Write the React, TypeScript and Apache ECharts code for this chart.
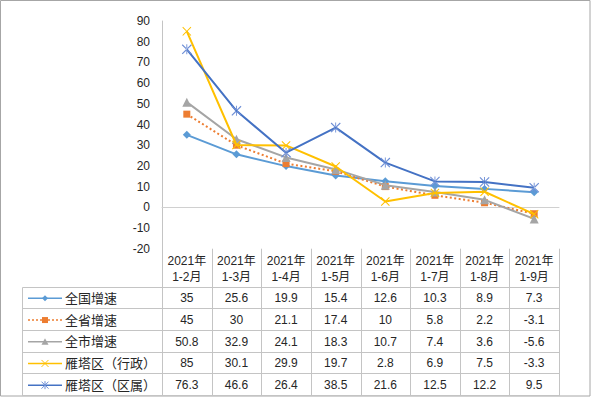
import React, { useEffect, useRef } from "react";
import * as echarts from "echarts";

const years = ["2021年", "2021年", "2021年", "2021年", "2021年", "2021年", "2021年", "2021年"];
const periods = ["1-2月", "1-3月", "1-4月", "1-5月", "1-6月", "1-7月", "1-8月", "1-9月"];

const seriesNames = ["全国增速", "全省增速", "全市增速", "雁塔区（行政）", "雁塔区（区属）"];
const national = [35, 25.6, 19.9, 15.4, 12.6, 10.3, 8.9, 7.3];
const province = [45, 30, 21.1, 17.4, 10, 5.8, 2.2, -3.1];
const city = [50.8, 32.9, 24.1, 18.3, 10.7, 7.4, 3.6, -5.6];
const yantaAdmin = [85, 30.1, 29.9, 19.7, 2.8, 6.9, 7.5, -3.3];
const yantaDistrict = [76.3, 46.6, 26.4, 38.5, 21.6, 12.5, 12.2, 9.5];

const yMin = -20;
const yMax = 90;
const yStep = 10;

const colors = ["#5B9BD5", "#ED7D31", "#A5A5A5", "#FFC000", "#4472C4"];
const FONT = "'Liberation Sans', 'Noto Sans CJK SC', sans-serif";
const TEXT = "#262626";

const X_PATH =
  "path://M0,0.8 L0.8,0 L5,4.2 L9.2,0 L10,0.8 L5.8,5 L10,9.2 L9.2,10 L5,5.8 L0.8,10 L0,9.2 L4.2,5 Z";
const STAR_PATH =
  "path://M0,0.8 L0.8,0 L5,4.2 L9.2,0 L10,0.8 L5.8,5 L10,9.2 L9.2,10 L5,5.8 L0.8,10 L0,9.2 L4.2,5 Z M4.55,0 L4.55,10 L5.45,10 L5.45,0 Z";

export default function App() {
  const ref = useRef<HTMLDivElement>(null);

  useEffect(() => {
    if (!ref.current) return;
    const chart = echarts.init(ref.current, undefined, { renderer: "svg" });

    const data = [national, province, city, yantaAdmin, yantaDistrict];
    const symbols = ["diamond", "rect", "triangle", X_PATH, STAR_PATH];
    const symbolSizes = [8, 7, 9, 9, 10];
    const markerColors = [colors[0], colors[1], colors[2], colors[3], "#6F8FD6"];

    // table geometry
    const left = 22.5;
    const x0 = 162;
    const x1 = 559;
    const colW = (x1 - x0) / periods.length;
    const headTop = 248.7;
    const headBottom = 287.5;
    const rowH = (396 - headBottom) / seriesNames.length;
    const grid = "#C4C4C4";

    const g: any[] = [];
    // outer border
    g.push({
      type: "rect",
      shape: { x: 0.5, y: 0.5, width: 589.5, height: 395.5 },
      style: { fill: "none", stroke: "#A6A6A6", lineWidth: 1 },
      silent: true,
    });
    // vertical column lines
    for (let i = 0; i <= periods.length; i++) {
      const x = Math.round(x0 + i * colW) + 0.5;
      g.push({
        type: "line",
        shape: { x1: x, y1: headTop, x2: x, y2: 396 },
        style: { stroke: grid, lineWidth: 1 },
        silent: true,
      });
    }
    // left border of label column
    g.push({
      type: "line",
      shape: { x1: left, y1: headBottom, x2: left, y2: 396 },
      style: { stroke: grid, lineWidth: 1 },
      silent: true,
    });
    // horizontal lines
    for (let r = 0; r <= seriesNames.length; r++) {
      const y = Math.round(headBottom + r * rowH) - 0.5;
      g.push({
        type: "line",
        shape: { x1: left, y1: y, x2: x1 + 0.5, y2: y },
        style: { stroke: grid, lineWidth: 1 },
        silent: true,
      });
    }
    // header texts
    periods.forEach((p, i) => {
      g.push({
        type: "text",
        x: x0 + (i + 0.5) * colW,
        y: (headTop + headBottom) / 2 + 1,
        style: {
          text: years[i] + "\n" + p,
          font: `12px ${FONT}`,
          fill: TEXT,
          lineHeight: 16,
          align: "center",
          verticalAlign: "middle",
          textAlign: "center",
          textVerticalAlign: "middle",
        },
        silent: true,
      });
    });
    // rows
    seriesNames.forEach((name, r) => {
      const cy = headBottom + (r + 0.5) * rowH;
      const col = colors[r];
      // legend key line
      g.push({
        type: "line",
        shape: { x1: 28, y1: cy, x2: 62, y2: cy },
        style: { stroke: col, lineWidth: 1.5, lineDash: r === 1 ? [2, 2] : null },
        silent: true,
      });
      const mx = 45;
      const mc = markerColors[r];
      if (r === 0) {
        g.push({
          type: "polygon",
          shape: { points: [[mx, cy - 3], [mx + 3, cy], [mx, cy + 3], [mx - 3, cy]] },
          style: { fill: mc },
          silent: true,
        });
      } else if (r === 1) {
        g.push({
          type: "rect",
          shape: { x: mx - 3, y: cy - 3, width: 6, height: 6 },
          style: { fill: mc },
          silent: true,
        });
      } else if (r === 2) {
        g.push({
          type: "polygon",
          shape: { points: [[mx, cy - 3.5], [mx + 3.5, cy + 3], [mx - 3.5, cy + 3]] },
          style: { fill: mc },
          silent: true,
        });
      } else {
        const s = 3.5;
        g.push({
          type: "line",
          shape: { x1: mx - s, y1: cy - s, x2: mx + s, y2: cy + s },
          style: { stroke: mc, lineWidth: 1 },
          silent: true,
        });
        g.push({
          type: "line",
          shape: { x1: mx - s, y1: cy + s, x2: mx + s, y2: cy - s },
          style: { stroke: mc, lineWidth: 1 },
          silent: true,
        });
        if (r === 4) {
          g.push({
            type: "line",
            shape: { x1: mx, y1: cy - s - 0.5, x2: mx, y2: cy + s + 0.5 },
            style: { stroke: mc, lineWidth: 1 },
            silent: true,
          });
        }
      }
      g.push({
        type: "text",
        x: 65,
        y: cy,
        style: {
          text: name,
          font: `13px ${FONT}`,
          fill: TEXT,
          align: "left",
          verticalAlign: "middle",
          textAlign: "left",
          textVerticalAlign: "middle",
        },
        silent: true,
      });
      data[r].forEach((v, i) => {
        g.push({
          type: "text",
          x: x0 + (i + 0.5) * colW,
          y: cy,
          style: {
            text: String(v),
            font: `12px ${FONT}`,
            fill: TEXT,
            align: "center",
            verticalAlign: "middle",
            textAlign: "center",
            textVerticalAlign: "middle",
          },
          silent: true,
        });
      });
    });

    chart.setOption({
      animation: false,
      backgroundColor: "#FFFFFF",
      grid: { left: 162, right: 32, top: 21, bottom: 397 - headTop, containLabel: false },
      xAxis: {
        type: "category",
        data: periods,
        boundaryGap: true,
        axisLine: { show: true, onZero: true, lineStyle: { color: "#D0D0D0", width: 1 } },
        axisTick: { show: false },
        axisLabel: { show: false },
        splitLine: { show: false },
      },
      yAxis: {
        type: "value",
        min: yMin,
        max: yMax,
        interval: yStep,
        axisLine: { show: true, lineStyle: { color: "#C4C4C4", width: 1 } },
        axisTick: { show: false },
        splitLine: { show: false },
        axisLabel: { color: TEXT, fontSize: 12, fontFamily: FONT, margin: 12 },
      },
      series: seriesNames.map((name, r) => ({
        name,
        type: "line",
        data: data[r],
        symbol: symbols[r],
        symbolSize: symbolSizes[r],
        showAllSymbol: true,
        z: r === 4 ? 3 : 2 + r * 0.1,
        lineStyle: {
          color: colors[r],
          width: 2,
          type: r === 1 ? [2, 2.5] : "solid",
        },
        itemStyle: { color: markerColors[r] },
        emphasis: { disabled: true },
      })),
      graphic: g,
    });

    return () => chart.dispose();
  }, []);

  return (
    <div
      ref={ref}
      style={{ position: "absolute", left: 0, top: 0, width: 591, height: 397 }}
    />
  );
}
